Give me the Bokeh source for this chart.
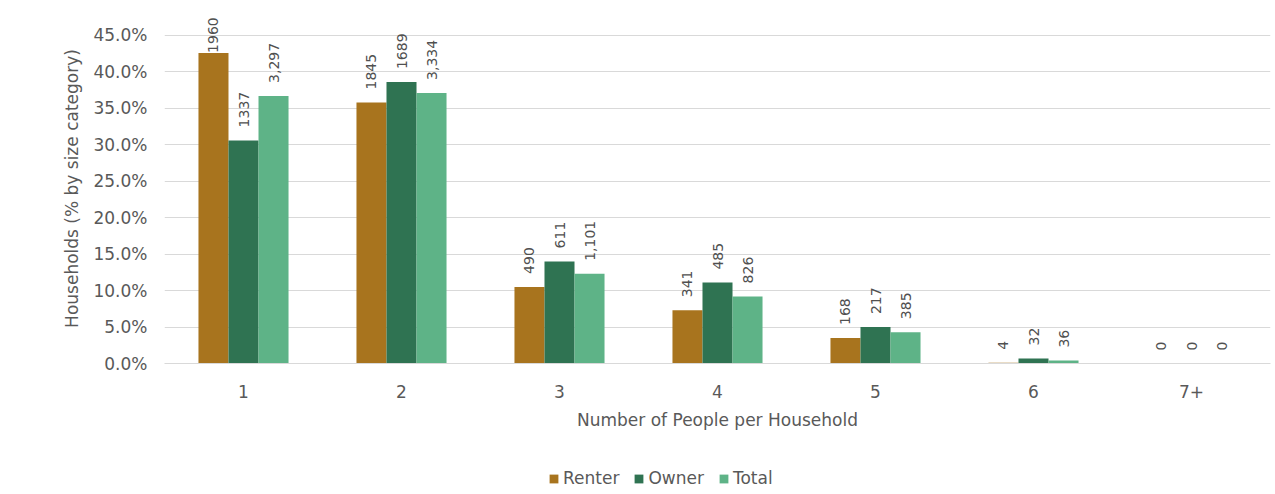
import math
from bokeh.plotting import figure
from bokeh.layouts import column
from bokeh.models import ColumnDataSource, FactorRange, Range1d, FixedTicker, PrintfTickFormatter, Legend
from bokeh.transform import dodge
from bokeh.core.properties import value
from bokeh.embed import file_html
from bokeh.resources import INLINE

categories = ["1", "2", "3", "4", "5", "6", "7+"]
renter_pct = [42.6, 35.8, 10.5, 7.3, 3.5, 0.1, 0.0]
owner_pct = [30.6, 38.6, 14.0, 11.1, 5.0, 0.7, 0.0]
total_pct = [36.7, 37.1, 12.3, 9.2, 4.3, 0.4, 0.0]
renter_lbl = ["1960", "1845", "490", "341", "168", "4", "0"]
owner_lbl = ["1337", "1689", "611", "485", "217", "32", "0"]
total_lbl = ["3,297", "3,334", "1,101", "826", "385", "36", "0"]
y_ticks = [0, 5, 10, 15, 20, 25, 30, 35, 40, 45]

FONT = "DejaVu Sans"
GREY = "#595959"
C_RENTER = "#A8741E"
C_OWNER = "#2F7352"
C_TOTAL = "#5EB387"

def offsets(vals):
    return [0 if v + 6.5 > 47 else -13 for v in vals]

src = ColumnDataSource(dict(
    cat=categories,
    renter=renter_pct, owner=owner_pct, total=total_pct,
    rl=renter_lbl, ol=owner_lbl, tl=total_lbl,
    ro=offsets(renter_pct), oo=offsets(owner_pct), to=offsets(total_pct),
))

FIG_W = 1272
p = figure(x_range=FactorRange(factors=categories, range_padding=0),
           y_range=Range1d(0, 48),
           width=FIG_W, height=440, output_backend="svg", toolbar_location=None,
           min_border_left=164, min_border_right=2, min_border_top=13, min_border_bottom=77)
p.outline_line_color = None
p.background_fill_color = "white"
p.border_fill_color = "white"

# legend-only figure (bars drawn far outside its visible range)
lg = figure(x_range=FactorRange(factors=categories, range_padding=0),
            y_range=Range1d(1000, 1001),
            width=FIG_W, height=50, output_backend="svg", toolbar_location=None,
            x_axis_location=None, y_axis_location=None,
            min_border_left=0, min_border_right=0, min_border_top=0, min_border_bottom=0)
lg.outline_line_color = None
lg.xgrid.grid_line_color = None
lg.ygrid.grid_line_color = None

W = 0.19
series = [("renter", "Renter", C_RENTER, -W, "rl", "ro"),
          ("owner", "Owner", C_OWNER, 0.0, "ol", "oo"),
          ("total", "Total", C_TOTAL, W, "tl", "to")]
items = []
for col, name, color, off, lcol, ocol in series:
    p.vbar(x=dodge("cat", off, range=p.x_range), top=col, width=W, source=src,
           fill_color=color, line_color=None)
    r2 = lg.vbar(x=dodge("cat", off, range=lg.x_range), top=col, width=W, source=src,
                 fill_color=color, line_color=None)
    items.append((name, [r2]))
    p.text(x=dodge("cat", off, range=p.x_range), y=col, text=lcol, source=src,
           angle=math.pi / 2, text_align="left", text_baseline="middle",
           y_offset=ocol, text_font=value(FONT), text_font_size="14px", text_color="#505050")

p.xgrid.grid_line_color = None
p.ygrid.grid_line_color = "#d9d9d9"
p.ygrid.grid_line_width = 1
p.yaxis.ticker = FixedTicker(ticks=y_ticks)
p.yaxis.formatter = PrintfTickFormatter(format="%.1f%%")

for ax in (p.xaxis[0], p.yaxis[0]):
    ax.axis_line_color = None
    ax.major_tick_line_color = None
    ax.minor_tick_line_color = None
    ax.major_label_text_font = FONT
    ax.major_label_text_font_size = "17px"
    ax.major_label_text_color = GREY
    ax.axis_label_text_font = FONT
    ax.axis_label_text_font_size = "17px"
    ax.axis_label_text_font_style = "normal"
    ax.axis_label_text_color = GREY

p.xaxis.axis_line_color = "#d9d9d9"
p.xaxis.axis_label = "Number of People per Household"
p.yaxis.axis_label = "Households (% by size category)"
p.xaxis.major_label_standoff = 15
p.xaxis.axis_label_standoff = 9
p.yaxis.major_label_standoff = 11
p.yaxis.axis_label_standoff = 8

legend = Legend(items=items, orientation="horizontal", location=(384, 2),
                glyph_width=11, glyph_height=11, label_standoff=4, spacing=14,
                padding=0, margin=0, border_line_color=None, background_fill_alpha=0,
                label_text_font=FONT, label_text_font_size="17px", label_text_color=GREY)
lg.add_layout(legend, "center")

open("out.html", "w").write(file_html(column(p, lg, spacing=0), INLINE))
